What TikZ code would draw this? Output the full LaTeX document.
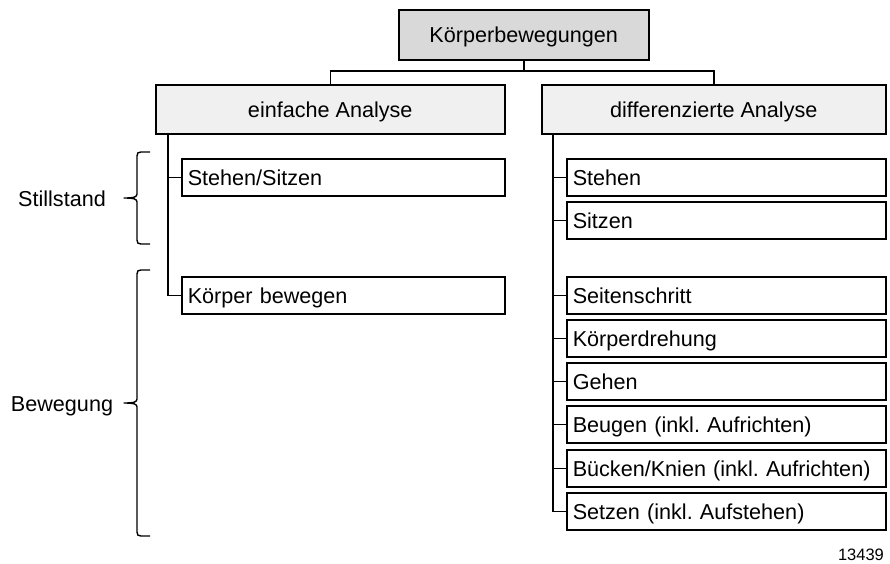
\documentclass[tikz,border=0pt]{standalone}
\usepackage{fontspec}
\setmainfont{Liberation Sans}
\frenchspacing
\begin{document}
\begin{tikzpicture}[x=1pt,y=-1pt,
  line width=1.5pt,
  every node/.style={font=\fontsize{21.6}{26}\selectfont, text height=15.5pt, text depth=0pt},
  headbox/.style={draw, rectangle, inner sep=0pt, anchor=north west},
  rootbox/.style={headbox, fill=black!15},
  catbox/.style={headbox, fill=black!6},
  leafbox/.style={draw, rectangle, anchor=north west, inner xsep=6pt, inner ysep=0pt,
    minimum height=37pt, align=left},
  lleaf/.style={leafbox, text width=311pt},
  rleaf/.style={leafbox, text width=307pt},
  brace/.style={line width=1.4pt, line join=round},
  sidelabel/.style={anchor=center},
  note/.style={font=\fontsize{16.5}{20}\selectfont, anchor=east}
]
\useasboundingbox (0,0) rectangle (890,563);

% hierarchy heads
\node[rootbox, minimum width=250pt, minimum height=50pt] (root) at (398,9) {Körperbewegungen};
\node[catbox, minimum width=349pt, minimum height=49pt] (simple) at (155,84) {einfache Analyse};
\node[catbox, minimum width=344pt, minimum height=49pt] (diff) at (541,84) {differenzierte Analyse};

\coordinate (split) at (0,71);
\draw (root.south) -- (root.south |- split) -| (simple.north);
\draw (root.south |- split) -| (diff.north);

% simple analysis
\node[lleaf] (s1) at (181,158) {Stehen/Sitzen};
\node[lleaf] (s2) at (181,276) {Körper bewegen};
\coordinate (ltrunk) at (168,133);
\draw (ltrunk) |- (s1.west);
\draw (ltrunk) |- (s2.west);

% differentiated analysis
\node[rleaf] (d1) at (566,158) {Stehen};
\node[rleaf] (d2) at (566,201) {Sitzen};
\node[rleaf] (d3) at (566,276) {Seitenschritt};
\node[rleaf] (d4) at (566,319) {Körperdrehung};
\node[rleaf] (d5) at (566,362) {Gehen};
\node[rleaf] (d6) at (566,405) {Beugen (inkl. Aufrichten)};
\node[rleaf] (d7) at (566,449) {Bücken/Knien (inkl. Aufrichten)};
\node[rleaf] (d8) at (566,492) {Setzen (inkl. Aufstehen)};
\coordinate (rtrunk) at (553,133);
\foreach \n in {d1,d2,d3,d4,d5,d6,d7,d8} \draw (rtrunk) |- (\n.west);

% side braces
\node[sidelabel] (still) at (62,199) {Stillstand};
\node[sidelabel] (move) at (62,404) {Bewegung};
\draw[brace] (150,152) -- (141,152) .. controls (138,152) and (137,153) .. (137,156)
  -- (137,194) .. controls (137,197) and (134,198) .. (124,198)
  .. controls (134,198) and (137,199) .. (137,202)
  -- (137,240) .. controls (137,243) and (138,244) .. (141,244) -- (150,244);
\draw[brace] (150,270) -- (141,270) .. controls (138,270) and (137,271) .. (137,274)
  -- (137,399) .. controls (137,402) and (134,403) .. (124,403)
  .. controls (134,403) and (137,404) .. (137,407)
  -- (137,532) .. controls (137,535) and (138,536) .. (141,536) -- (150,536);

\node[note] (num) at (888,553) {13439};
\end{tikzpicture}
\end{document}
